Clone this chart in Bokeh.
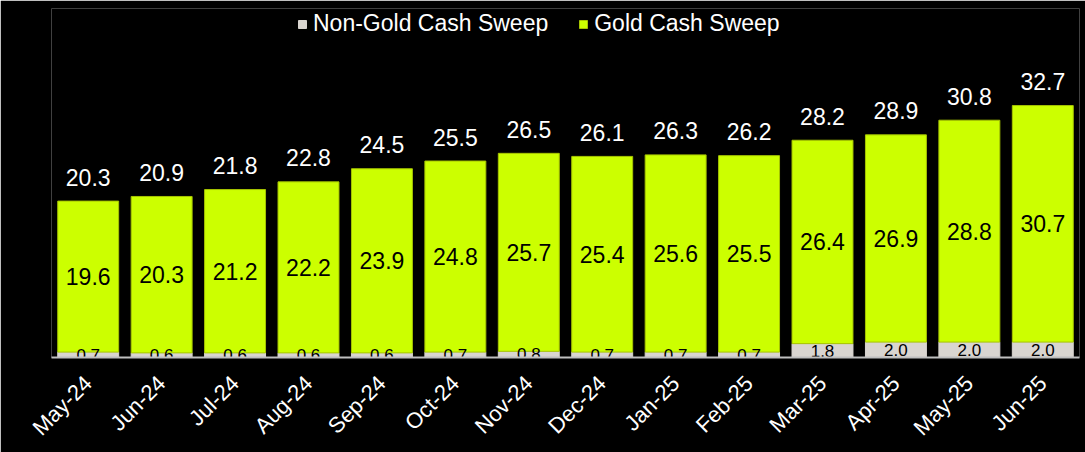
import math
from bokeh.plotting import figure
from bokeh.models import ColumnDataSource, FactorRange, Range1d, Legend, LegendItem
from bokeh.embed import file_html
from bokeh.resources import INLINE

months = ["May-24", "Jun-24", "Jul-24", "Aug-24", "Sep-24", "Oct-24", "Nov-24",
          "Dec-24", "Jan-25", "Feb-25", "Mar-25", "Apr-25", "May-25", "Jun-25"]
non_gold = [0.7, 0.6, 0.6, 0.6, 0.6, 0.7, 0.8, 0.7, 0.7, 0.7, 1.8, 2.0, 2.0, 2.0]
gold = [19.6, 20.3, 21.2, 22.2, 23.9, 24.8, 25.7, 25.4, 25.6, 25.5, 26.4, 26.9, 28.8, 30.7]
totals = [20.3, 20.9, 21.8, 22.8, 24.5, 25.5, 26.5, 26.1, 26.3, 26.2, 28.2, 28.9, 30.8, 32.7]

GOLD_C = "#CCFF00"
NONGOLD_C = "#D9D5D0"
FONT = "Liberation Sans"

src = ColumnDataSource(dict(
    m=months,
    ng=non_gold,
    g=gold,
    tot=totals,
    top=[a + b for a, b in zip(non_gold, gold)],
    ng_mid=[a / 2 for a in non_gold],
    g_mid=[a + b / 2 for a, b in zip(non_gold, gold)],
    ng_lab=[f"{v:.1f}" for v in non_gold],
    g_lab=[f"{v:.1f}" for v in gold],
    t_lab=[f"{v:.1f}" for v in totals],
))

p = figure(x_range=FactorRange(*months, range_padding=0), y_range=Range1d(0, 45.3),
           width=1085, height=452, output_backend="svg", toolbar_location=None,
           background_fill_color="black", border_fill_color="black",
           min_border_left=51, min_border_right=6, min_border_top=8, min_border_bottom=94)
p.outline_line_color = None
p.xgrid.visible = False
p.ygrid.visible = False
p.yaxis.visible = False

r_ng = p.vbar(x="m", bottom=0, top="ng", width=0.83, source=src,
              fill_color=NONGOLD_C, line_color=NONGOLD_C)
r_g = p.vbar(x="m", bottom="ng", top="top", width=0.83, source=src,
             fill_color=GOLD_C, line_color="#A6C400", line_width=1)

p.text(x="m", y="ng_mid", text="ng_lab", source=src, text_color="black",
       text_font_size="17px", text_align="center", text_baseline="middle",
       text_font={"value": FONT})
p.text(x="m", y="g_mid", text="g_lab", source=src, text_color="black",
       text_font_size="23px", text_align="center", text_baseline="middle",
       text_font={"value": FONT})
p.text(x="m", y="tot", text="t_lab", source=src, text_color="white",
       text_font_size="23px", text_align="center", text_baseline="middle",
       y_offset=-24, text_font={"value": FONT})

ax = p.xaxis[0]
ax.axis_line_color = "#BFBFBF"
ax.axis_line_width = 2
ax.major_tick_line_color = None
ax.minor_tick_line_color = None
ax.major_label_orientation = math.pi / 4
ax.major_label_text_color = "white"
ax.major_label_text_font_size = "22px"
ax.major_label_text_font = FONT
ax.major_label_standoff = 16

legend = Legend(items=[LegendItem(label="Non-Gold Cash Sweep", renderers=[r_ng]),
                       LegendItem(label="Gold Cash Sweep", renderers=[r_g])],
                orientation="horizontal", location=(246, 320),
                background_fill_alpha=0, border_line_color=None,
                label_text_color="white", label_text_font_size="23px",
                label_text_font=FONT, glyph_width=10, glyph_height=10,
                label_standoff=6, spacing=30, padding=0, margin=0,
                label_height=22)
p.add_layout(legend, "center")

open("out.html", "w").write(file_html(p, INLINE))
